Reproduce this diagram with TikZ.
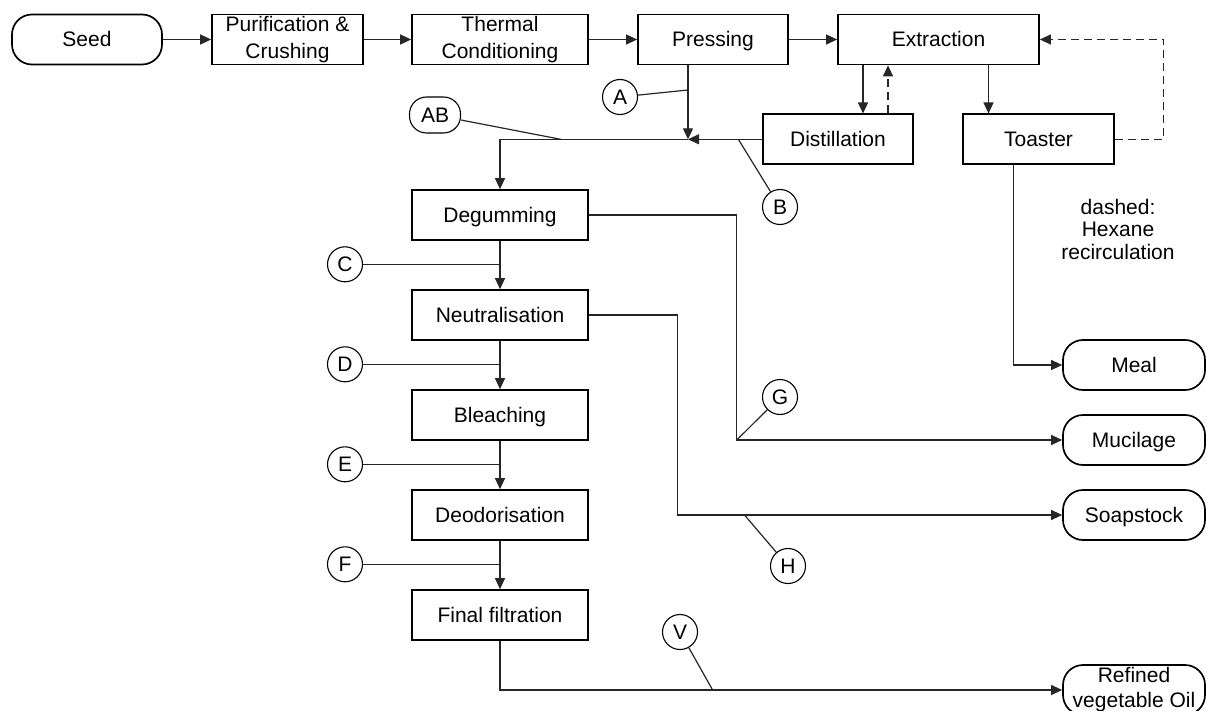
\documentclass[tikz,border=0pt]{standalone}
\usepackage{fontspec}
\setmainfont{Liberation Sans}
\usetikzlibrary{arrows.meta}
\tikzset{
  every node/.style={font=\fontsize{21}{26}\selectfont},
  boxbase/.style={draw=black, line width=1.7pt, minimum height=50pt, inner sep=0pt, align=center},
  oneline/.style={text height=15pt, text depth=0pt},
  proc/.style={boxbase, oneline},
  procml/.style={boxbase, font=\fontsize{21}{27}\selectfont},
  term/.style={boxbase, oneline, minimum width=142pt, rounded corners=20pt},
  termml/.style={boxbase, minimum width=142pt, rounded corners=20pt},
  tag/.style={draw=black, line width=1.1pt, circle, minimum size=35pt, inner sep=0pt, oneline},
  tagbox/.style={draw=black, line width=1.1pt, rounded corners=17pt, minimum width=51pt, minimum height=36pt, inner sep=0pt, oneline},
  conn/.style={draw=black!85, line width=1.2pt},
  arr/.style={conn, -{Triangle[length=11pt,width=10pt]}},
  hexdash/.style={dash pattern=on 8pt off 5pt}
}
\begin{document}
\begin{tikzpicture}[x=1pt,y=-1pt]
\useasboundingbox (0,0) rectangle (1206,711);
% top row
\node[term, minimum width=150pt] (seed) at (87,39.5) {Seed};
\node[procml, minimum width=151pt] (purif) at (287.5,39.5) {Purification \&\\Crushing};
\node[procml, minimum width=176pt] (thermal) at (500,39.5) {Thermal\\Conditioning};
\node[proc, minimum width=150pt] (pressing) at (713,39.5) {Pressing};
\node[proc, minimum width=201pt] (extraction) at (938.5,39.5) {Extraction};
% second row
\node[proc, minimum width=150pt] (distillation) at (838,139.3) {Distillation};
\node[proc, minimum width=151pt] (toaster) at (1038.5,139.3) {Toaster};
% process column
\node[proc, minimum width=176pt] (degum) at (500,215) {Degumming};
\node[proc, minimum width=176pt] (neut) at (500,315) {Neutralisation};
\node[proc, minimum width=176pt] (bleach) at (500,415) {Bleaching};
\node[proc, minimum width=176pt] (deod) at (500,515) {Deodorisation};
\node[proc, minimum width=176pt] (final) at (500,615) {Final filtration};
% outputs
\node[term] (meal) at (1134,365) {Meal};
\node[term] (mucilage) at (1134,440) {Mucilage};
\node[term] (soapstock) at (1134,515) {Soapstock};
\node[termml, font=\fontsize{21}{25}\selectfont] (refined) at (1134,690) {Refined\\vegetable Oil};
% tags
\node[tag] (A) at (620,97) {A};
\node[tagbox] (AB) at (435,115) {AB};
\node[tag] (B) at (780,207) {B};
\node[tag] (C) at (345,264.3) {C};
\node[tag] (D) at (345,364.3) {D};
\node[tag] (E) at (345,464.3) {E};
\node[tag] (F) at (345,564.3) {F};
\node[tag] (G) at (780,397) {G};
\node[tag] (H) at (788,566) {H};
\node[tag] (V) at (680,632) {V};
% note
\node[align=center, font=\fontsize{21}{22.5}\selectfont] (note) at (1118,229) {dashed:\\Hexane\\recirculation};
% coordinates
\coordinate (merge) at (688,139.3);
\coordinate (aT) at (688,90);
\coordinate (abT) at (560.7,139.3);
\coordinate (bT) at (738.3,139.3);
\coordinate (gj) at (736.8,440);
\coordinate (hj) at (677.6,515);
\coordinate (hT) at (744.5,515);
\coordinate (vT) at (712.6,690);
% top row arrows
\draw[arr] (seed) -- (purif);
\draw[arr] (purif) -- (thermal);
\draw[arr] (thermal) -- (pressing);
\draw[arr] (pressing) -- (extraction);
% pressing / distillation merge
\draw[arr] (pressing.south -| merge) -- (merge);
\draw[arr] (distillation.west) -- (merge);
\draw[arr] (merge) -| (degum.north);
\draw[conn] (A) -- (aT);
\draw[conn] (AB) -- (abT);
\draw[conn] (B) -- (bT);
% extraction loop
\draw[arr] ([xshift=-75.5pt]extraction.south) -- ([xshift=-75.5pt]extraction.south |- distillation.north);
\draw[arr, hexdash] ([xshift=50pt]distillation.north) -- ([xshift=50pt]distillation.north |- extraction.south);
\draw[arr] ([xshift=50pt]extraction.south) -- ([xshift=50pt]extraction.south |- toaster.north);
\draw[arr, hexdash] (toaster.east) -- ++(49,0) |- (extraction.east);
\draw[arr] ([xshift=-25pt]toaster.south) |- (meal.west);
% refining column
\draw[arr] (degum) -- (neut);
\draw[arr] (neut) -- (bleach);
\draw[arr] (bleach) -- (deod);
\draw[arr] (deod) -- (final);
\draw[conn] (C) -- (C -| degum.south);
\draw[conn] (D) -- (D -| neut.south);
\draw[conn] (E) -- (E -| bleach.south);
\draw[conn] (F) -- (F -| deod.south);
% side outputs
\draw[arr] (degum.east) -| (gj) -- (mucilage.west);
\draw[conn] (G) -- (gj);
\draw[arr] (neut.east) -| (hj) -- (soapstock.west);
\draw[conn] (H) -- (hT);
\draw[arr] (final.south) |- (refined.west);
\draw[conn] (V) -- (vT);
\end{tikzpicture}
\end{document}
